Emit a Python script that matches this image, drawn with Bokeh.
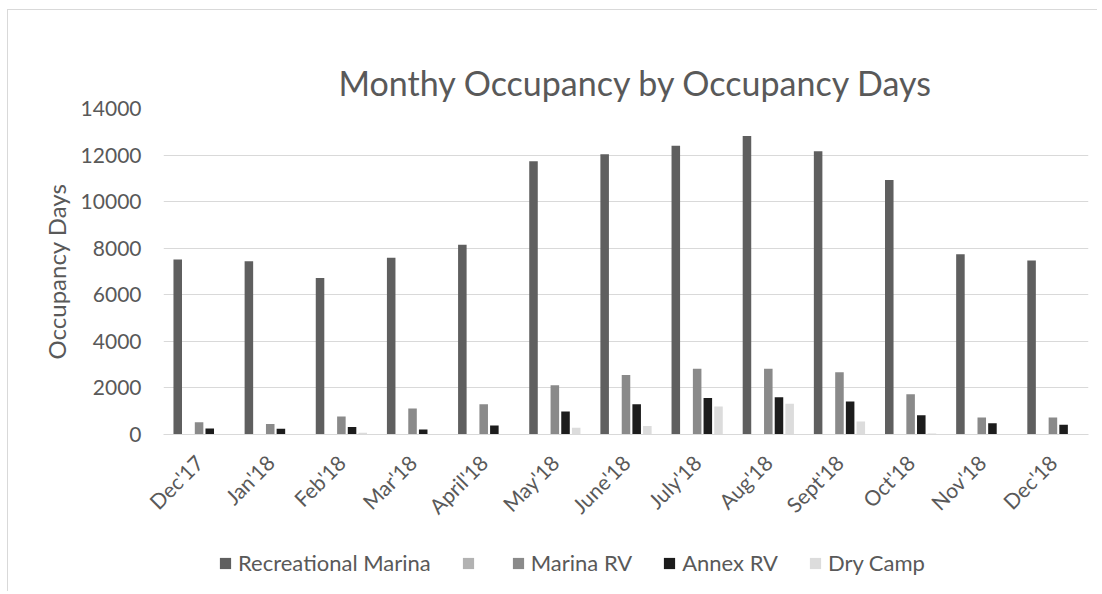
from bokeh.plotting import figure
from bokeh.layouts import column
from bokeh.models import (ColumnDataSource, Range1d, FactorRange, Legend, LegendItem,
                          FixedTicker)
from bokeh.transform import dodge
from bokeh.embed import file_html
from bokeh.resources import INLINE
import math

months = ["Dec'17", "Jan'18", "Feb'18", "Mar'18", "April'18", "May'18", "June'18",
          "July'18", "Aug'18", "Sept'18", "Oct'18", "Nov'18", "Dec'18"]
rec_marina = [7510, 7440, 6720, 7590, 8150, 11730, 12030, 12400, 12820, 12160, 10930, 7740, 7470]
unnamed_series = [0, 0, 0, 0, 0, 0, 0, 0, 0, 0, 0, 0, 0]
marina_rv = [530, 450, 770, 1120, 1300, 2120, 2560, 2820, 2820, 2670, 1730, 730, 730]
annex_rv = [260, 250, 320, 220, 390, 990, 1300, 1570, 1600, 1420, 830, 480, 420]
dry_camp = [0, 0, 70, 0, 0, 290, 360, 1200, 1320, 560, 40, 0, 0]
y_ticks = [0, 2000, 4000, 6000, 8000, 10000, 12000, 14000]

series_names = ["Recreational Marina", "", "Marina RV", "Annex RV", "Dry Camp"]
series_cols = ["rec", "blank", "mrv", "arv", "dry"]
series_colors = ["#5f5f5f", "#b2b2b2", "#8a8a8a", "#1c1c1c", "#dcdcdc"]
offsets = [-0.3, -0.15, 0.0, 0.15, 0.3]

src = ColumnDataSource(dict(month=months, rec=rec_marina, blank=unnamed_series,
                            mrv=marina_rv, arv=annex_rv, dry=dry_camp))

FONT = "Lato"
TXT = "#595959"
BORDER = "1px solid #d9d9d9"

# ---------------- main chart ----------------
p = figure(x_range=FactorRange(*months), y_range=Range1d(0, 14000),
           width=1090, height=520, output_backend="svg", toolbar_location=None,
           min_border_left=155, min_border_right=10, min_border_top=98, min_border_bottom=96)

p.title.text = "Monthy Occupancy by Occupancy Days"
p.title.text_font = FONT
p.title.text_font_size = "34px"
p.title.text_font_style = "normal"
p.title.text_color = TXT
p.title.align = "left"
p.title.offset = 175
p.title.standoff = 12

for col, color, off in zip(series_cols, series_colors, offsets):
    p.vbar(x=dodge("month", off, range=p.x_range), top=col, width=0.12,
           source=src, fill_color=color, line_color=None)

p.outline_line_color = None
p.xgrid.grid_line_color = None
p.ygrid.grid_line_color = "#d9d9d9"
p.ygrid.grid_line_width = 1

p.yaxis.ticker = FixedTicker(ticks=y_ticks)
p.yaxis.axis_line_color = None
p.yaxis.major_tick_line_color = None
p.yaxis.minor_tick_line_color = None
p.yaxis.major_tick_out = 0
p.yaxis.major_label_standoff = 22
p.yaxis.major_label_text_font = FONT
p.yaxis.major_label_text_font_size = "21px"
p.yaxis.major_label_text_color = TXT
p.yaxis.axis_label = "Occupancy Days"
p.yaxis.axis_label_text_font = FONT
p.yaxis.axis_label_text_font_size = "24px"
p.yaxis.axis_label_text_font_style = "normal"
p.yaxis.axis_label_text_color = TXT
p.yaxis.axis_label_standoff = 7

p.xaxis.axis_line_color = "#d9d9d9"
p.xaxis.major_tick_line_color = None
p.xaxis.minor_tick_line_color = None
p.xaxis.major_tick_out = 0
p.xaxis.major_label_orientation = math.pi / 4
p.xaxis.major_label_standoff = 24
p.xaxis.major_label_text_font = FONT
p.xaxis.major_label_text_font_size = "21px"
p.xaxis.major_label_text_color = TXT

p.styles = {"margin-left": "7px", "margin-top": "9px",
            "border-left": BORDER, "border-top": BORDER}

# ---------------- legend strip ----------------
q = figure(x_range=FactorRange(*months), y_range=Range1d(20000, 30000),
           width=1090, height=62, output_backend="svg", toolbar_location=None,
           min_border=0)
q.axis.visible = False
q.grid.visible = False
q.outline_line_color = None

leg_renderers = []
for col, color, off in zip(series_cols, series_colors, offsets):
    r = q.vbar(x=dodge("month", off, range=q.x_range), top=col, width=0.12,
               source=src, fill_color=color, line_color=None)
    leg_renderers.append(r)

items = [LegendItem(label=n, renderers=[r]) for n, r in zip(series_names, leg_renderers)]
legend = Legend(items=items, orientation="horizontal", location=(55, 15),
                glyph_width=14, glyph_height=14, label_standoff=6, spacing=30,
                label_width=0, padding=0, margin=0,
                background_fill_color=None, border_line_color=None,
                label_text_font=FONT, label_text_font_size="22px", label_text_color=TXT)
q.add_layout(legend)
q.styles = {"margin-left": "7px", "border-left": BORDER}

layout = column(p, q, spacing=0)
open("out.html", "w").write(file_html(layout, INLINE))
